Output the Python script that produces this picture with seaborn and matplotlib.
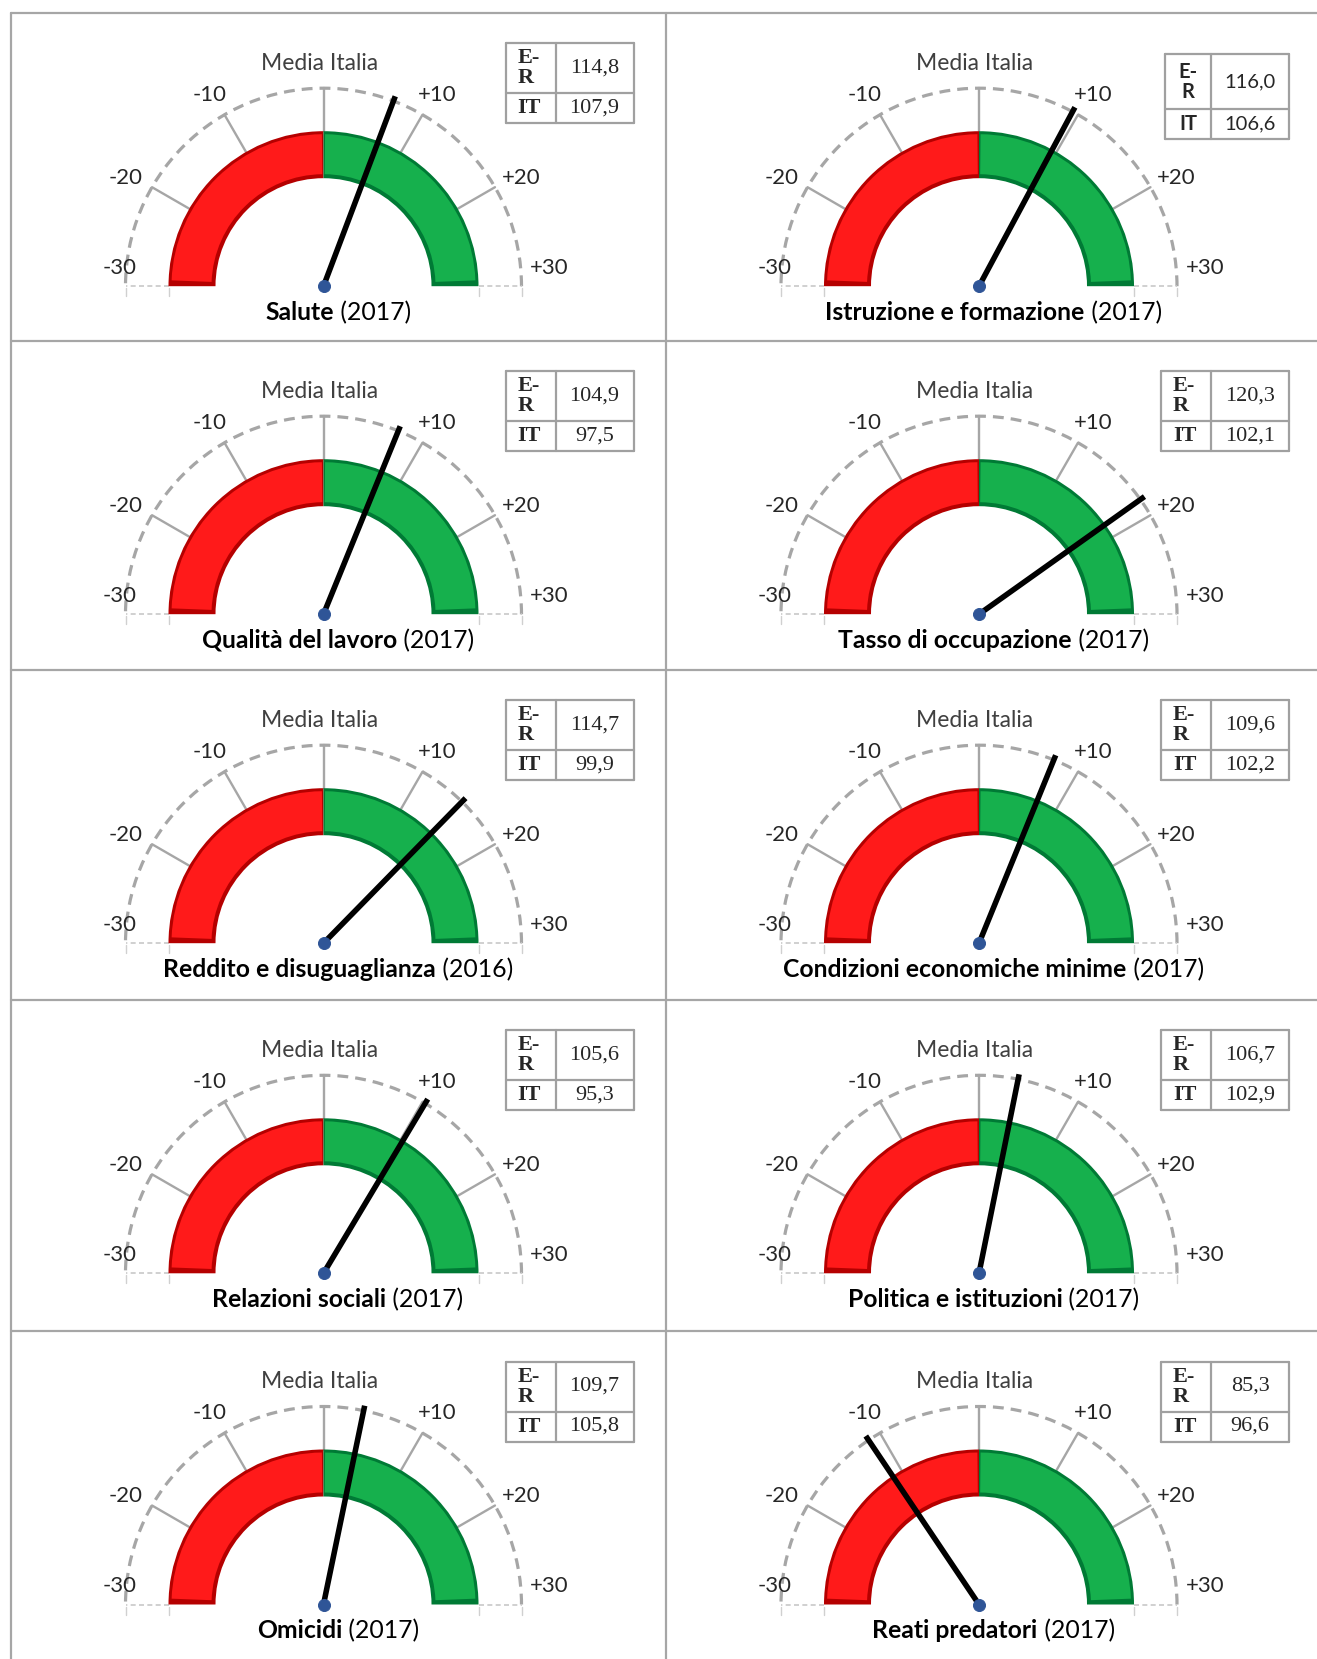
import numpy as np
import pandas as pd
import matplotlib
matplotlib.use("Agg")
import matplotlib.pyplot as plt
from matplotlib.patches import Wedge, Arc
from matplotlib.offsetbox import TextArea, HPacker, AnnotationBbox
import seaborn as sns

# Indicatori BES: Emilia-Romagna vs media Italia (Italia = 100)
indicators = ["Salute", "Istruzione e formazione", "Qualità del lavoro",
              "Tasso di occupazione", "Reddito e disuguaglianza",
              "Condizioni economiche minime", "Relazioni sociali",
              "Politica e istituzioni", "Omicidi", "Reati predatori"]
years = [2017, 2017, 2017, 2017, 2016, 2017, 2017, 2017, 2017, 2017]
er_values = [114.8, 116.0, 104.9, 120.3, 114.7, 109.6, 105.6, 106.7, 109.7, 85.3]
it_values = [107.9, 106.6, 97.5, 102.1, 99.9, 102.2, 95.3, 102.9, 105.8, 96.6]
scale_ticks = [-30, -20, -10, 0, 10, 20, 30]
scale_labels = ["-30", "-20", "-10", "Media Italia", "+10", "+20", "+30"]

df = pd.DataFrame({"name": indicators, "year": years, "er": er_values, "it": it_values})
df["diff"] = df["er"] - df["it"]

sns.set_theme(style="white")
SANS = ["Lato", "DejaVu Sans"]
SERIF = ["Liberation Serif", "DejaVu Serif"]
plt.rcParams["font.family"] = SANS

W, H = 1317, 1659
fig = plt.figure(figsize=(W / 100, H / 100), dpi=100)
ax = fig.add_axes([0, 0, 1, 1])
ax.set_xlim(0, W)
ax.set_ylim(0, H)
ax.axis("off")

cell_left = [10.5, 666]
cell_top = [12.7, 340.7, 669.7, 999.8, 1331]
cell_w = 655
GRID = "#A6A6A6"

# table grid
for x in cell_left:
    ax.plot([x, x], [0, H - cell_top[0]], color=GRID, lw=1.6)
for t in cell_top:
    ax.plot([cell_left[0], W], [H - t, H - t], color=GRID, lw=1.6)

R_OUT, R_IN, R_DASH, R_NEEDLE, R_LAB = 155, 108, 198, 203, 228


def ang(v):
    return np.radians(90 - 3 * v)


needles = []
hubs = []
for i, row in df.iterrows():
    r, c = divmod(i, 2)
    cx = cell_left[c] + 313
    cy = H - (cell_top[r] + 273.5)
    mid_x = cell_left[c] + cell_w / 2

    # bands with a simple bevel
    for dark, light, t1, t2 in [("#B50000", "#FF1A1A", 90, 180),
                                ("#007A35", "#16B04D", 0, 90)]:
        ax.add_patch(Wedge((cx, cy), R_OUT, t1, t2, width=R_OUT - R_IN,
                           fc=dark, ec="none", zorder=2))
        ax.add_patch(Wedge((cx, cy), R_OUT - 3, t1 + (2.2 if t1 == 0 else 0.6),
                           t2 - (2.2 if t2 == 180 else 0.6), width=R_OUT - R_IN - 7,
                           fc=light, ec="none", zorder=2))

    # outer dashed scale
    ax.add_patch(Arc((cx, cy), 2 * R_DASH, 2 * R_DASH, theta1=0, theta2=180,
                     color=GRID, lw=2.3, ls=(0, (3.4, 2.2)), zorder=1))
    for v in scale_ticks:
        a = ang(v)
        if abs(v) == 30:
            ax.plot([cx + R_OUT * np.cos(a), cx + R_DASH * np.cos(a)], [cy, cy],
                    color="#C8C8C8", lw=1.2, ls=(0, (3, 2)), zorder=1)
            for rr in (R_OUT, R_DASH):
                ax.plot([cx + rr * np.cos(a)] * 2, [cy - 2, cy - 10],
                        color="#D0D0D0", lw=1, zorder=1)
        else:
            ax.plot([cx + R_OUT * np.cos(a), cx + R_DASH * np.cos(a)],
                    [cy + R_OUT * np.sin(a), cy + R_DASH * np.sin(a)],
                    color=GRID, lw=1.7, zorder=1)

    # scale labels
    for v, lab in zip(scale_ticks, scale_labels):
        a = ang(v)
        if abs(v) == 30:
            lx = cx + (R_LAB - 2 if v > 0 else R_LAB - 24) * np.cos(a)
            ly = cy + 18
        elif v == 0:
            lx, ly = cx - 4, cy + 223
        else:
            lx = cx + R_LAB * np.cos(a)
            ly = cy + R_LAB * np.sin(a) - 6
        ax.text(lx, ly, lab, ha="center", va="center", fontsize=16.5 if v == 0 else 16,
                color="#404040" if v == 0 else "#262626", zorder=3)

    # needle data
    a = ang(row["diff"])
    needles.append({"gauge": i, "x": cx, "y": cy})
    needles.append({"gauge": i, "x": cx + R_NEEDLE * np.cos(a), "y": cy + R_NEEDLE * np.sin(a)})
    hubs.append({"x": cx, "y": cy})

    # title: bold name + regular year
    box = HPacker(children=[
        TextArea(row["name"], textprops=dict(fontweight="bold", fontsize=17.8, color="black")),
        TextArea(f" ({row['year']})", textprops=dict(fontsize=17.8, color="black"))],
        align="baseline", pad=0, sep=0)
    ax.add_artist(AnnotationBbox(box, (mid_x, cy - 26), frameon=False,
                                 box_alignment=(0.5, 0.5), xycoords="data"))

    # small value table
    if i == 1:
        xs, ys, fam, ha_lab, fs = (186, 232, 310), (232, 177, 147), SANS, "center", 14.5
    else:
        xs, ys, fam, ha_lab, fs = (182, 232, 310), (243, 193, 163), SERIF, "left", 16
    x0, x1, x2 = (cx + d for d in xs)
    y0, y1, y2 = (cy + d for d in ys)
    for xx in (x0, x1, x2):
        ax.plot([xx, xx], [y0, y2], color="#A0A0A0", lw=1.6)
    for yy in (y0, y1, y2):
        ax.plot([x0, x2], [yy, yy], color="#A0A0A0", lw=1.6)
    lab_x = x0 + 12 if ha_lab == "left" else (x0 + x1) / 2
    ax.text(lab_x, (y0 + y1) / 2, "E-\nR", ha=ha_lab, va="center", fontsize=fs,
            fontweight="bold", family=fam, linespacing=1.0)
    ax.text(lab_x, (y1 + y2) / 2, "IT", ha=ha_lab, va="center", fontsize=fs,
            fontweight="bold", family=fam)
    for val, yc in ((row["er"], (y0 + y1) / 2), (row["it"], (y1 + y2) / 2)):
        ax.text((x1 + x2) / 2, yc, f"{val:.1f}".replace(".", ","), ha="center",
                va="center", fontsize=fs, family=fam)

needles = pd.DataFrame(needles)
hubs = pd.DataFrame(hubs)
sns.lineplot(data=needles, x="x", y="y", units="gauge", estimator=None, sort=False,
             color="black", linewidth=4, solid_capstyle="butt", ax=ax, zorder=4)
sns.scatterplot(data=hubs, x="x", y="y", s=75, color="#2F5597", edgecolor="#2F5597",
                ax=ax, zorder=5, legend=False)
ax.set_xlim(0, W)
ax.set_ylim(0, H)
ax.axis("off")

fig.savefig("out.png", dpi=100)
